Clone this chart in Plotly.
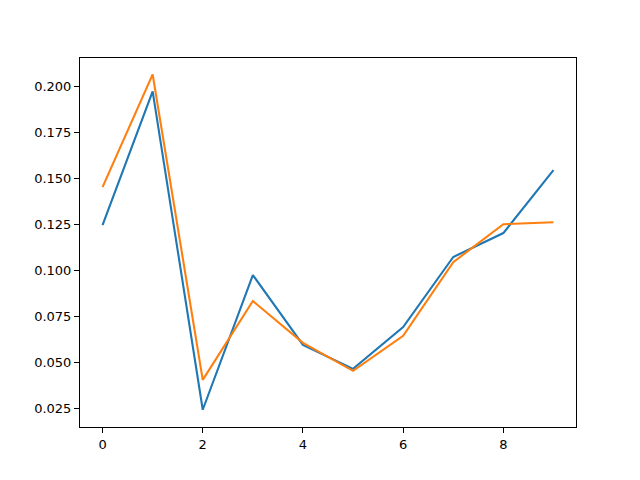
import plotly.graph_objects as go

x_vals = list(range(10))
blue_vals = [0.1247, 0.1973, 0.0245, 0.0976, 0.0597, 0.0467, 0.0694, 0.1074, 0.1204, 0.1545]
orange_vals = [0.1453, 0.2065, 0.0407, 0.0835, 0.0608, 0.0456, 0.0646, 0.1046, 0.1252, 0.1263]
y_ticks = [0.025, 0.050, 0.075, 0.100, 0.125, 0.150, 0.175, 0.200]
x_ticks = [0, 2, 4, 6, 8]

fig = go.Figure()
fig.add_trace(go.Scatter(x=x_vals, y=blue_vals, mode="lines",
                         line=dict(color="#1f77b4", width=2.1), showlegend=False))
fig.add_trace(go.Scatter(x=x_vals, y=orange_vals, mode="lines",
                         line=dict(color="#ff7f0e", width=2.1), showlegend=False))

axis_common = dict(showline=True, linecolor="black", linewidth=1, mirror=True,
                   ticks="outside", ticklen=5, tickwidth=1, tickcolor="black",
                   showgrid=False, zeroline=False,
                   tickfont=dict(family="DejaVu Sans", size=13, color="black"))

fig.update_layout(
    width=632, height=472,
    margin=dict(l=72, r=64, t=50, b=53),
    paper_bgcolor="white", plot_bgcolor="white",
    xaxis=dict(range=[-0.45, 9.45], tickvals=x_ticks, **axis_common),
    yaxis=dict(range=[0.01514, 0.2154], tickvals=y_ticks, tickformat=".3f", **axis_common),
)

fig.write_html("out.html")
